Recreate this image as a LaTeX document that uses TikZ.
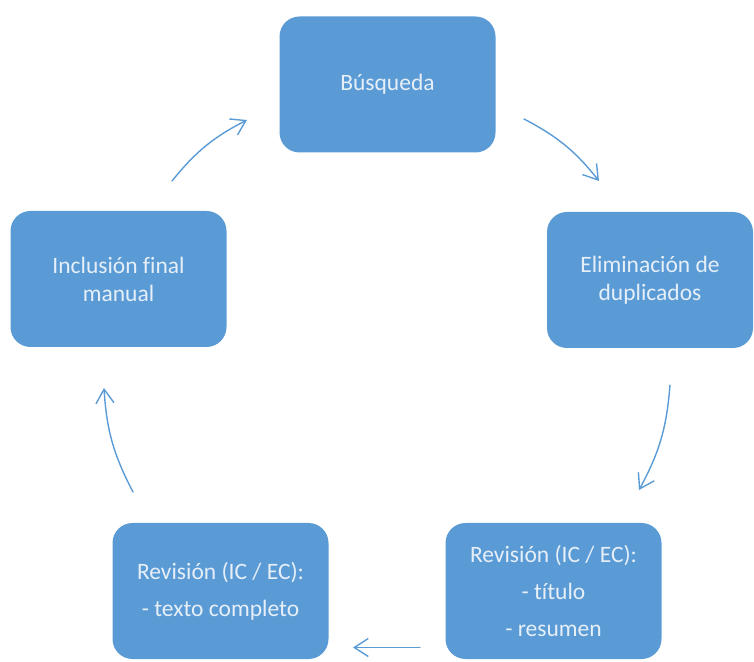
\documentclass[tikz,border=0pt]{standalone}
\usepackage{fontspec}
\setmainfont{Carlito}[Ligatures=NoCommon]
\usepackage{tikz}
\usetikzlibrary{arrows.meta}
\usetikzlibrary{positioning}
\definecolor{boxblue}{HTML}{5B9BD5}
\definecolor{boxtext}{HTML}{E6EFF8}
\tikzset{
    font={\fontsize{23.5pt}{28pt}\selectfont},
    stage/.style={
           rectangle,
           rounded corners=20pt,
           draw=none,
           fill=boxblue,
           text=boxtext,
           minimum width=216pt,
           minimum height=136pt,
           inner sep=2pt,
           text centered,
           align=center,
           },
    stagelist/.style={stage, font={\fontsize{23.5pt}{37pt}\selectfont}},
    flow/.style={draw=boxblue, line width=1.4pt, line cap=round},
}

\begin{document}
\begin{tikzpicture}[x=1pt,y=1pt,->,>={Straight Barb[length=14pt,width=18pt]}]
\useasboundingbox (0,0) rectangle (754,661);

\node[stage] (BUSQUEDA) at (387.5,576.5) {Búsqueda};

 % State: right box, a bit narrower
\node[stage, minimum width=206pt, right of=BUSQUEDA, node distance=262.5pt, yshift=-195.5pt, anchor=center] (ELIMINACION) {%
    Eliminación de\\duplicados
};

\node[stage, left of=BUSQUEDA, node distance=269pt, yshift=-194.5pt, anchor=center] (INCLUSION) {%
    Inclusión final\\manual
};

 % State: review boxes at the bottom
\node[stagelist, right of=INCLUSION, node distance=102pt, yshift=-312pt, anchor=center] (REVTEXTO) {%
    Revisión (IC / EC):\\- texto completo
};

\node[stagelist, right of=REVTEXTO, node distance=333pt, anchor=center] (REVTITULO) {%
    Revisión (IC / EC):\\- título\\- resumen
};

% free ends of the arrows
\coordinate (BUSOUT) at (524,542);
\coordinate (ELIIN) at (599,480);
\coordinate (ELIOUT) at (670,276);
\coordinate (TITIN) at (639,171);
\coordinate (TITOUT) at (420,13.5);
\coordinate (TEXIN) at (353,13.5);
\coordinate (TEXOUT) at (133,169);
\coordinate (INCIN) at (104,273);
\coordinate (INCOUT) at (172,480);
\coordinate (BUSIN) at (247,541);

\path (BUSOUT)  edge[flow, bend left=12]  (ELIIN)
(ELIOUT)        edge[flow, bend left=12]  (TITIN)
(TITOUT)        edge[flow]                (TEXIN)
(TEXOUT)        edge[flow, bend left=12]  (INCIN)
(INCOUT)        edge[flow, bend left=12]  (BUSIN);

\end{tikzpicture}
\end{document}
